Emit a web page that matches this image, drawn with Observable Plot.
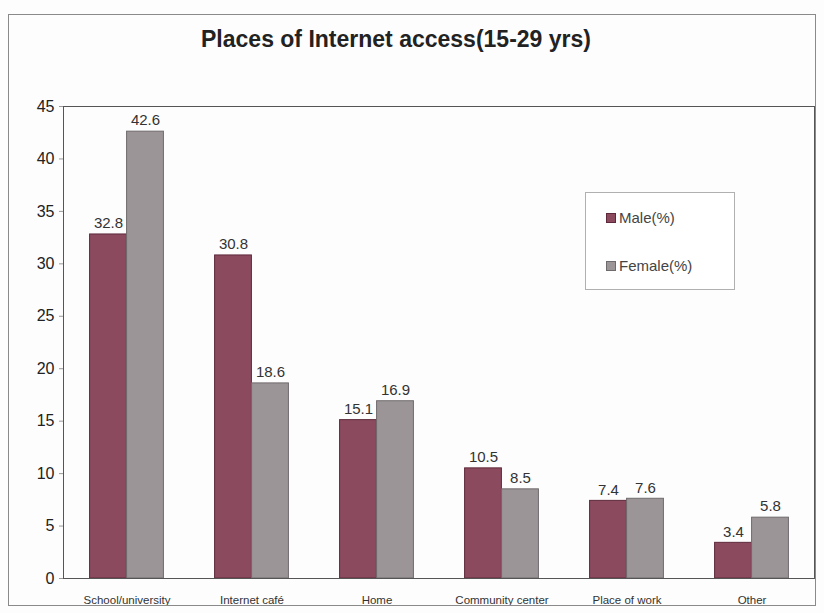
<!DOCTYPE html>
<html>
<head>
<meta charset="utf-8">
<script src="https://cdn.jsdelivr.net/npm/d3@7"></script>
<script src="https://cdn.jsdelivr.net/npm/@observablehq/plot@0.6"></script>
<style>
  body { margin: 0; background: #fff; font-family: "Liberation Sans", Arial, sans-serif; }
  #wrap { position: relative; width: 824px; height: 613px; overflow: hidden; background: #fdfdfd; }
  #frame { position: absolute; left: 8px; top: 14px; width: 808px; height: 592px; border: 1px solid #8a8a8a; box-sizing: border-box; pointer-events: none; }
  #title { position: absolute; left: 0; width: 792px; top: 26px; text-align: center; font-weight: bold; font-size: 23px; color: #222; }
  #legend { position: absolute; left: 585px; top: 192px; width: 150px; height: 98px; border: 1px solid #b0b0b0; background: #fff; box-sizing: border-box; font-size: 15px; color: #444; }
  .item { position: absolute; left: 20px; display: flex; align-items: center; }
  .sw { display: inline-block; width: 8px; height: 8px; margin-right: 3px; }
  #chart { position: absolute; left: 0; top: 0; }
</style>
</head>
<body>
<div id="wrap">
  <div id="chart"></div>
  <div id="frame"></div>
  <div id="title">Places of Internet access(15-29 yrs)</div>
  <div id="legend"></div>
</div>
<script>
const categories = ["School/university", "Internet café", "Home", "Community center", "Place of work", "Other"];
const series = ["Male(%)", "Female(%)"];
const male = [32.8, 30.8, 15.1, 10.5, 7.4, 3.4];
const female = [42.6, 18.6, 16.9, 8.5, 7.6, 5.8];
const yTicks = [0, 5, 10, 15, 20, 25, 30, 35, 40, 45];
const colors = ["#8c4a5f", "#9b9597"];
const strokes = ["#5e2a3b", "#6f6a6c"];

const maleData = categories.map((c, i) => ({category: c, value: male[i], series: series[0]}));
const femaleData = categories.map((c, i) => ({category: c, value: female[i], series: series[1]}));

const W = 824, H = 613, mL = 63, mR = 10;
const bw = (W - mL - mR) / categories.length;
const barW = 37;
const half = bw / 2;

const chart = Plot.plot({
  width: W,
  height: H,
  marginLeft: mL,
  marginRight: mR,
  marginTop: 106,
  marginBottom: 35,
  style: {background: "transparent", fontFamily: "'Liberation Sans', Arial, sans-serif"},
  x: {domain: categories, padding: 0, label: null},
  y: {domain: [0, 45], label: null},
  marks: [
    Plot.barY(maleData, {x: "category", y: "value", fill: colors[0], stroke: strokes[0], strokeWidth: 1,
      insetLeft: half - barW, insetRight: half}),
    Plot.barY(femaleData, {x: "category", y: "value", fill: colors[1], stroke: strokes[1], strokeWidth: 1,
      insetLeft: half, insetRight: half - barW}),
    Plot.text(maleData, {x: "category", y: "value", text: d => d.value.toFixed(1), dx: -barW / 2, dy: -11,
      fontSize: 15, fill: "#333"}),
    Plot.text(femaleData, {x: "category", y: "value", text: d => d.value.toFixed(1), dx: barW / 2, dy: -11,
      fontSize: 15, fill: "#333"}),
    Plot.frame({stroke: "#555"}),
    Plot.axisY({ticks: yTicks, tickSize: 4, tickPadding: 5, fontSize: 16, fill: "#222", stroke: "#999"}),
    Plot.axisX({tickSize: 0, tickPadding: 17, fontSize: 11.5, fill: "#333"})
  ]
});
document.getElementById("chart").appendChild(chart);

const legend = document.getElementById("legend");
series.forEach((s, i) => {
  const item = document.createElement("div");
  item.className = "item";
  item.style.top = (i === 0 ? 16 : 64) + "px";
  const sw = document.createElement("span");
  sw.className = "sw";
  sw.style.background = colors[i];
  sw.style.border = "1px solid " + strokes[i];
  item.appendChild(sw);
  item.appendChild(document.createTextNode(s));
  legend.appendChild(item);
});
</script>
</body>
</html>
